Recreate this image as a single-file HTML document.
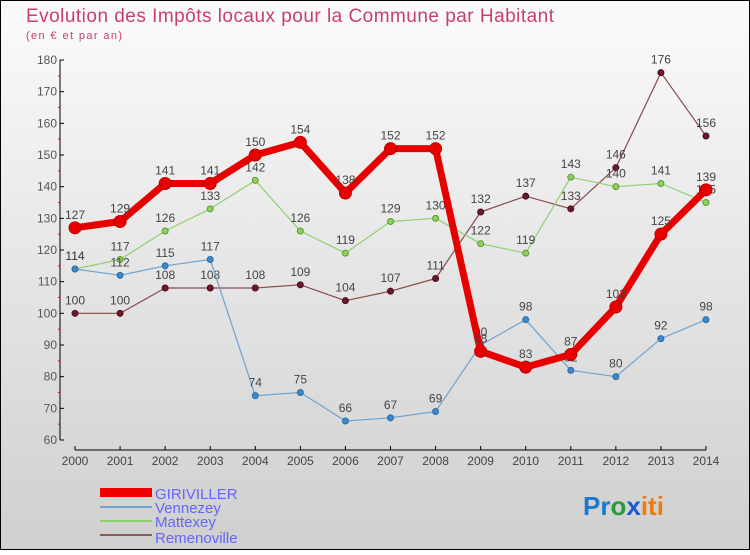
<!DOCTYPE html>
<html><head><meta charset="utf-8"><style>
html,body{margin:0;padding:0}
body{width:750px;height:550px;overflow:hidden;font-family:"Liberation Sans",sans-serif}
</style></head><body>
<svg id="chart" width="750" height="550" xmlns="http://www.w3.org/2000/svg">
<defs><linearGradient id="bg" x1="0" y1="0" x2="0" y2="1"><stop offset="0" stop-color="#fbfbfb"/><stop offset="1" stop-color="#cfcfcf"/></linearGradient></defs>
<rect x="0.5" y="0.5" width="749" height="549" fill="url(#bg)" stroke="#000"/>
<text x="26" y="22" font-size="19" fill="#c8406a" textLength="528" lengthAdjust="spacing">Evolution des Impôts locaux pour la Commune par Habitant</text>
<text x="26" y="39" font-size="11" fill="#c8406a" textLength="96">(en € et par an)</text>
<g id="axes"></g>
<g id="series"></g>
<g id="legend">
<rect x="100" y="488" width="52" height="9" fill="#e00"/>
<text x="155" y="499" font-size="15" fill="#6464ff">GIRIVILLER</text>
<rect x="100" y="506" width="52" height="2" fill="#6fa3d0"/>
<text x="155" y="513" font-size="15" fill="#6464ff">Vennezey</text>
<rect x="100" y="520" width="52" height="2" fill="#8fd070"/>
<text x="155" y="527" font-size="15" fill="#6464ff">Mattexey</text>
<rect x="100" y="534" width="52" height="2" fill="#8a5a5a"/>
<text x="155" y="543" font-size="15" fill="#6464ff">Remenoville</text>
</g>
<text x="583" y="515" font-size="26" font-weight="bold"><tspan fill="#1a7ad0">Pr</tspan><tspan fill="#2a9a3a">o</tspan><tspan fill="#1a5ad0">x</tspan><tspan fill="#f07a10">iti</tspan></text>
</svg>
<script>
const years=[2000,2001,2002,2003,2004,2005,2006,2007,2008,2009,2010,2011,2012,2013,2014];
const giriviller=[127,129,141,141,150,154,138,152,152,88,83,87,102,125,139];
const vennezey=[114,112,115,117,74,75,66,67,69,90,98,82,80,92,98];
const mattexey=[114,117,126,133,142,126,119,129,130,122,119,143,140,141,135];
const remenoville=[100,100,108,108,108,109,104,107,111,132,137,133,146,176,156];
const yTicks=[60,70,80,90,100,110,120,130,140,150,160,170,180];
const NS="http://www.w3.org/2000/svg";
const x=i=>75+i*(706-75)/(years.length-1);
const y=v=>440-(v-60)*(380/120);
function mk(tag,attrs,parent){const e=document.createElementNS(NS,tag);for(const k in attrs)e.setAttribute(k,attrs[k]);parent.appendChild(e);return e;}
const axes=document.getElementById('axes');
const ya=mk('line',{x1:60,y1:60,x2:60,y2:440,stroke:'#000'},axes);


yTicks.forEach(t=>{
  mk('line',{x1:60,x2:64,y1:y(t),y2:y(t),stroke:'#000'},axes);
  const tx=mk('text',{x:57,y:y(t)+4,'font-size':12,fill:'#555','text-anchor':'end'},axes);
  tx.textContent=t;
  
  
  if(t<180){mk('line',{x1:58,x2:60,y1:y(t+5),y2:y(t+5),stroke:'#e00'},axes);}
});
const xa=mk('line',{x1:75,y1:450,x2:706,y2:450,stroke:'#000'},axes);


years.forEach((yr,i)=>{
  mk('line',{x1:x(i),x2:x(i),y1:446,y2:450,stroke:'#000'},axes);
  const tx=mk('text',{x:x(i),y:465,'font-size':12,fill:'#444','text-anchor':'middle'},axes);
  tx.textContent=yr;
  
  
});
const ser=document.getElementById('series');
function draw(data,name,color,w,r,dot,stroke){
  const g=mk('g',{},ser);
  
  
  const pts=data.map((v,i)=>x(i)+','+y(v)).join(' ');
  const pl=mk('polyline',{points:pts,fill:'none',stroke:color,'stroke-width':w,'stroke-linejoin':'round'},g);
  
  
  data.forEach((v,i)=>{
    const c=mk('circle',{cx:x(i),cy:y(v),r:r,fill:dot,stroke:stroke,'stroke-width':1},g);
    
    
    const t=mk('text',{x:x(i),y:y(v)-9,'font-size':12,fill:'#444','text-anchor':'middle'},g);
    t.textContent=v;
    
    
  });
}
draw(remenoville,'remenoville','#8a4a4a',1.2,3,'#6a1a2a','#4a0a1a');
draw(mattexey,'mattexey','#8fd070',1.2,3,'#8fd060','#5a9a30');
draw(vennezey,'vennezey','#6fa3d0',1.2,3,'#3a8ad0','#2a6aa0');
draw(giriviller,'giriviller','#e80000',7,6,'#e80000','#c00000');
</script>
</body></html>
